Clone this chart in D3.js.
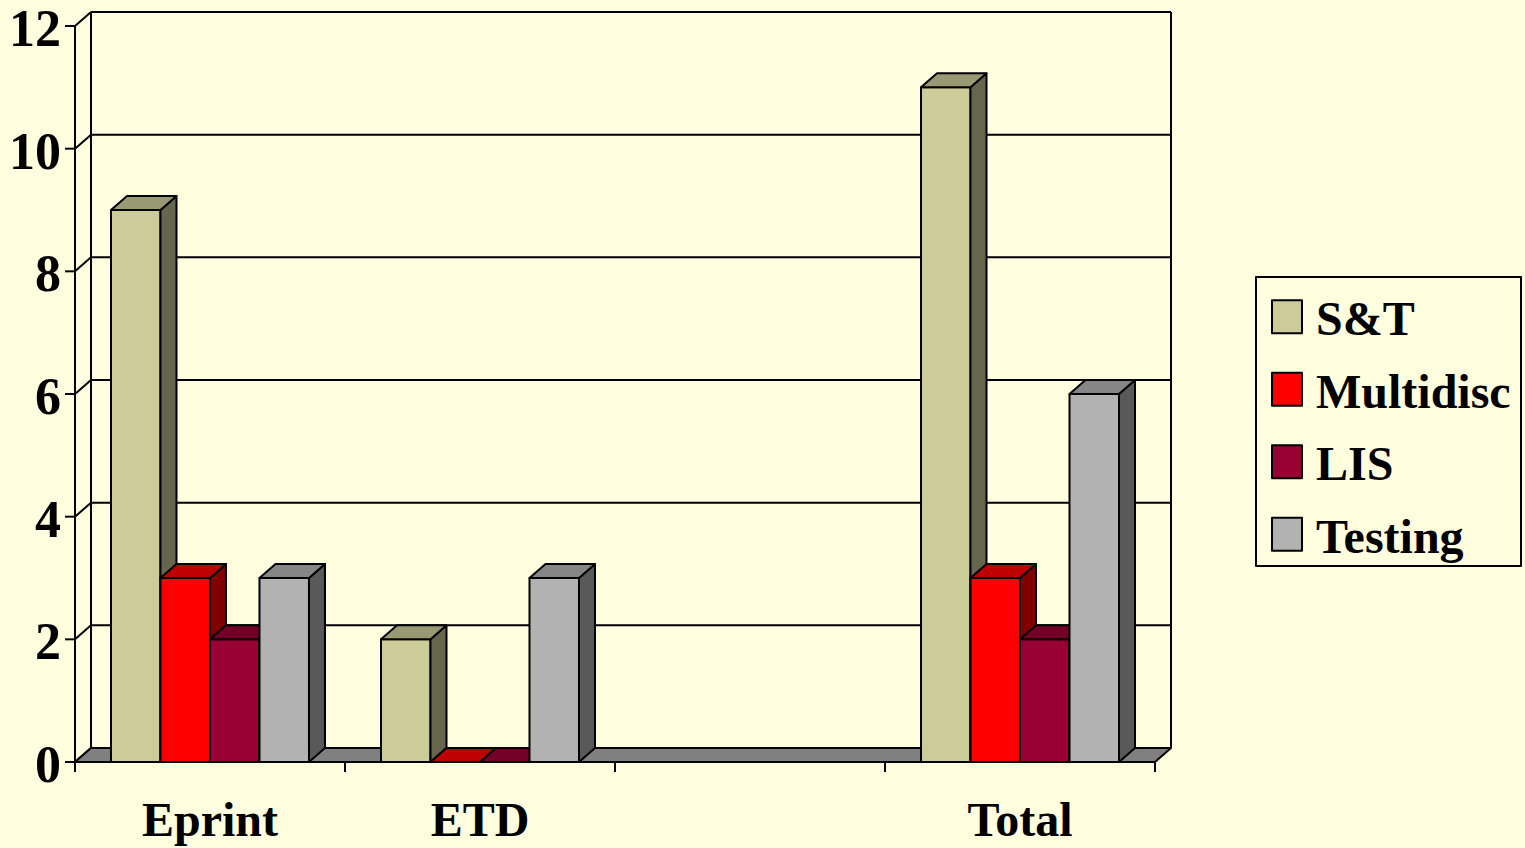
<!DOCTYPE html>
<html>
<head>
<meta charset="utf-8">
<script src="https://cdn.jsdelivr.net/npm/d3@7"></script>
<style>
  html, body { margin: 0; padding: 0; background: #ffffe0; }
  svg { display: block; }
  text { font-family: 'Liberation Serif', 'Times New Roman', serif; font-weight: bold; fill: #000; }
</style>
</head>
<body>
<div id="chart"></div>
<script>
// chart data
const categories = ['Eprint', 'ETD', ' ', 'Total'];
const seriesNames = ['S&T', 'Multidisc', 'LIS', 'Testing'];
const seriesColors = ['#cccc99', '#ff0000', '#990033', '#b2b2b2'];
const sandtValues = [9, 2, null, 11];
const multidiscValues = [3, 0, null, 3];
const lisValues = [2, 0, null, 2];
const testingValues = [3, 3, null, 6];
const yTicks = [0, 2, 4, 6, 8, 10, 12];

const width = 1525;
const height = 848;
const plot = {left: 75, right: 1155, top: 26, bottom: 762};
const depth = {dx: 16, dy: 14};

const values = [sandtValues, multidiscValues, lisValues, testingValues];

/**
 * shade - darker version of a fill, like the 3d faces of an office chart
 */
function shade(color, k) {
  const c = d3.rgb(color);
  return d3.rgb(c.r * k, c.g * k, c.b * k).formatHex();
}

const svg = d3
  .select('#chart')
  .append('svg')
  .attr('width', width)
  .attr('height', height);

svg.append('rect')
  .attr('width', width)
  .attr('height', height)
  .attr('fill', '#ffffe0');

const yCoord = d3
  .scaleLinear()
  .domain([0, 12])
  .range([plot.bottom, plot.top]);

// slots for ticks and labels
const xSlot = d3
  .scaleBand()
  .domain(categories)
  .range([plot.left, plot.right])
  .padding(0);

// where the bar groups sit
const xGroup = d3
  .scaleBand()
  .domain(categories)
  .range([plot.left, plot.right])
  .paddingInner(0.2667)
  .paddingOuter(0.1333);

const xBar = d3
  .scaleBand()
  .domain(seriesNames)
  .range([0, xGroup.bandwidth()]);

const color = d3.scaleOrdinal().domain(seriesNames).range(seriesColors);

const lineStyle = (sel) => sel
  .attr('stroke', '#000')
  .attr('stroke-width', 2)
  .attr('stroke-linejoin', 'round');

// back wall + gridlines
const wall = svg.append('g');
const backL = plot.left + depth.dx;
const backR = plot.right + depth.dx;

wall.selectAll('.grid')
  .data(yTicks)
  .enter()
  .append('line')
  .attr('x1', backL)
  .attr('x2', backR)
  .attr('y1', (d) => yCoord(d) - depth.dy)
  .attr('y2', (d) => yCoord(d) - depth.dy)
  .call(lineStyle);

wall.selectAll('.diag')
  .data(yTicks)
  .enter()
  .append('line')
  .attr('x1', plot.left)
  .attr('x2', backL)
  .attr('y1', (d) => yCoord(d))
  .attr('y2', (d) => yCoord(d) - depth.dy)
  .call(lineStyle);

wall.append('line')
  .attr('x1', backL).attr('x2', backL)
  .attr('y1', yCoord(12) - depth.dy).attr('y2', yCoord(0) - depth.dy)
  .call(lineStyle);

wall.append('line')
  .attr('x1', backR).attr('x2', backR)
  .attr('y1', yCoord(12) - depth.dy).attr('y2', yCoord(0) - depth.dy)
  .call(lineStyle);

// floor
const y0 = yCoord(0);
svg.append('polygon')
  .attr('points', [
    [plot.left, y0],
    [plot.right, y0],
    [backR, y0 - depth.dy],
    [backL, y0 - depth.dy]
  ].join(' '))
  .attr('fill', '#808080')
  .call(lineStyle);

// y axis
const yAxis = svg.append('g');
yAxis.append('line')
  .attr('x1', plot.left).attr('x2', plot.left)
  .attr('y1', yCoord(0)).attr('y2', yCoord(12))
  .call(lineStyle);

yAxis.selectAll('.tick')
  .data(yTicks)
  .enter()
  .append('line')
  .attr('x1', plot.left - 10)
  .attr('x2', plot.left)
  .attr('y1', (d) => yCoord(d))
  .attr('y2', (d) => yCoord(d))
  .call(lineStyle);

yAxis.selectAll('text')
  .data(yTicks)
  .enter()
  .append('text')
  .attr('x', plot.left - 14)
  .attr('y', (d) => yCoord(d) + 20)
  .attr('text-anchor', 'end')
  .attr('font-size', 52)
  .text((d) => d);

// x axis
const xAxis = svg.append('g');
const boundaries = categories.map((c) => xSlot(c)).concat([plot.right]);
xAxis.selectAll('line')
  .data(boundaries)
  .enter()
  .append('line')
  .attr('x1', (d) => d)
  .attr('x2', (d) => d)
  .attr('y1', y0)
  .attr('y2', y0 + 10)
  .call(lineStyle);

xAxis.selectAll('text')
  .data(categories)
  .enter()
  .append('text')
  .attr('x', (d) => xSlot(d) + xSlot.bandwidth() / 2)
  .attr('y', 836)
  .attr('text-anchor', 'middle')
  .attr('font-size', 48)
  .text((d) => d);

// bars, left to right so each front face hides the previous side face
const bars = svg.append('g');
categories.forEach((cat, ci) => {
  seriesNames.forEach((name, si) => {
    const v = values[si][ci];
    if (v === null) return;
    const x0 = xGroup(cat) + xBar(name);
    const w = xBar.bandwidth();
    const yt = yCoord(v);
    const base = color(name);
    const g = bars.append('g');
    if (v > 0) {
      g.append('rect')
        .attr('x', x0)
        .attr('y', yt)
        .attr('width', w)
        .attr('height', y0 - yt)
        .attr('fill', base)
        .call(lineStyle);
      g.append('polygon')
        .attr('points', [
          [x0 + w, yt],
          [x0 + w + depth.dx, yt - depth.dy],
          [x0 + w + depth.dx, y0 - depth.dy],
          [x0 + w, y0]
        ].join(' '))
        .attr('fill', shade(base, 0.5))
        .call(lineStyle);
    }
    g.append('polygon')
      .attr('points', [
        [x0, yt],
        [x0 + w, yt],
        [x0 + w + depth.dx, yt - depth.dy],
        [x0 + depth.dx, yt - depth.dy]
      ].join(' '))
      .attr('fill', shade(base, 0.75))
      .call(lineStyle);
  });
});

// legend
const legend = svg.append('g');
legend.append('rect')
  .attr('x', 1256)
  .attr('y', 277)
  .attr('width', 265)
  .attr('height', 289)
  .attr('fill', 'none')
  .call(lineStyle);

const legendY = d3.scaleBand().domain(seriesNames).range([280, 570]);

const items = legend.selectAll('.item')
  .data(seriesNames)
  .enter()
  .append('g');

items.append('rect')
  .attr('x', 1272)
  .attr('y', (d) => legendY(d) + legendY.bandwidth() / 2 - 16)
  .attr('width', 30)
  .attr('height', 33)
  .attr('fill', (d) => color(d))
  .call(lineStyle);

items.append('text')
  .attr('x', 1316)
  .attr('y', (d) => legendY(d) + legendY.bandwidth() / 2 + 19)
  .attr('font-size', 48)
  .text((d) => d);
</script>
</body>
</html>
